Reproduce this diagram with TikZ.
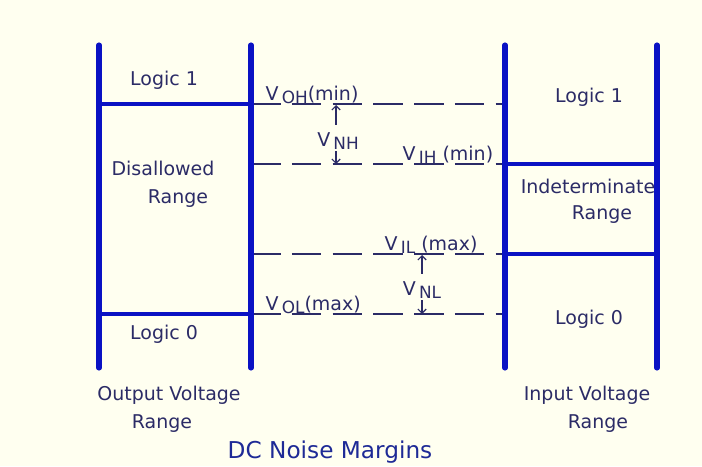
\documentclass[tikz,border=0pt]{standalone}
\usepackage{fontspec}
\setmainfont{DejaVu Sans}
\usepackage{xcolor}
\usetikzlibrary{arrows.meta,positioning}

\definecolor{paper}{HTML}{FFFFF0}
\definecolor{barblue}{HTML}{0A12C4}
\definecolor{inknavy}{HTML}{2B2B66}
\definecolor{titleblue}{HTML}{1E2A96}

\newcommand{\vsub}[1]{V\,\raisebox{-0.35ex}{\fontsize{12}{13}\selectfont #1}}

\begin{document}
\begin{tikzpicture}[
  x=0.025cm, y=-0.025cm,
  bar/.style={line width=3.6pt, barblue, line cap=round},
  band/.style={line width=2.8pt, barblue},
  level/.style={line width=0.9pt, inknavy, dash pattern=on 21pt off 8pt},
  lab/.style={text=inknavy, font=\fontsize{13.5}{16}\selectfont, inner sep=1pt},
  vlab/.style={lab, anchor=base west},
  margin/.style={-{Straight Barb[length=3pt,width=6pt]}, line width=0.8pt, inknavy},
]
  % Background
  \fill[paper] (0,0) rectangle (702,466);
  \useasboundingbox (0,0) rectangle (702,466);

  % Bar ends
  \coordinate (out-lt) at (99,45);   \coordinate (out-lb) at (99,368);
  \coordinate (out-rt) at (251,45);  \coordinate (out-rb) at (251,368);
  \coordinate (in-lt) at (505,45);   \coordinate (in-lb) at (505,368);
  \coordinate (in-rt) at (657,45);   \coordinate (in-rb) at (657,368);

  % Levels
  \coordinate (oh-o) at (99,104);   \coordinate (oh-l) at (251,104); \coordinate (oh-r) at (505,104);
  \coordinate (ih-l) at (251,164);  \coordinate (ih-r) at (505,164); \coordinate (ih-i) at (657,164);
  \coordinate (il-l) at (251,254);  \coordinate (il-r) at (505,254); \coordinate (il-i) at (657,254);
  \coordinate (ol-o) at (99,314);   \coordinate (ol-l) at (251,314); \coordinate (ol-r) at (505,314);

  % Dashed levels
  \foreach \lv in {oh, ih, il, ol}
    \draw[level] (\lv-l) -- (\lv-r);

  % Range bars
  \draw[bar] (out-lt) -- (out-lb);
  \draw[bar] (out-rt) -- (out-rb);
  \draw[bar] (in-lt) -- (in-lb);
  \draw[bar] (in-rt) -- (in-rb);
  \draw[band] (oh-o) -- (oh-l);
  \draw[band] (ol-o) -- (ol-l);
  \draw[band] (ih-r) -- (ih-i);
  \draw[band] (il-r) -- (il-i);

  % Output side
  \node[lab] (out1) at (164,80) {Logic 1};
  \node[lab] (dis) at (163,168) {Disallowed};
  \node[lab] (disr) at (178,199) {Range};
  \node[lab] (out0) at (164,334) {Logic 0};
  \node[lab] (outv) at (169,395) {Output Voltage};
  \node[lab] (outr) at (162,424) {Range};

  % Input side
  \node[lab] (in1) at (589,97) {Logic 1};
  \node[lab] (ind) at (588,186) {Indeterminate};
  \node[lab] (indr) at (602,215) {Range};
  \node[lab] (in0) at (589,319) {Logic 0};
  \node[lab] (inv) at (587,395) {Input Voltage};
  \node[lab] (inr) at (598,424) {Range};

  % Level labels
  \node[vlab] (vohmin) at (264,100) {\vsub{OH}(min)};
  \node[vlab] (vihmin) at (401,160) {\vsub{IH} (min)};
  \node[vlab] (vilmax) at (383,250) {\vsub{IL} (max)};
  \node[vlab] (volmax) at (264,310) {\vsub{OL}(max)};

  % Noise margins
  \coordinate (nh-top) at (336,105);
  \coordinate (nh-bot) at (336,164);
  \coordinate (nl-top) at (422,255);
  \coordinate (nl-bot) at (422,314);
  \node[lab] (vnh) at (338,141) {\vsub{NH}};
  \node[lab] (vnl) at (422,290) {\vsub{NL}};
  \draw[margin] ([yshift=4pt]vnh.north -| nh-top) -- (nh-top);
  \draw[margin] (vnh.south -| nh-bot) -- (nh-bot);
  \draw[margin] ([yshift=4pt]vnl.north -| nl-top) -- (nl-top);
  \draw[margin] (vnl.south -| nl-bot) -- (nl-bot);

  % Title
  \node[text=titleblue, font=\fontsize{16.5}{19}\selectfont] (title) at (330,452) {DC Noise Margins};
\end{tikzpicture}
\end{document}
